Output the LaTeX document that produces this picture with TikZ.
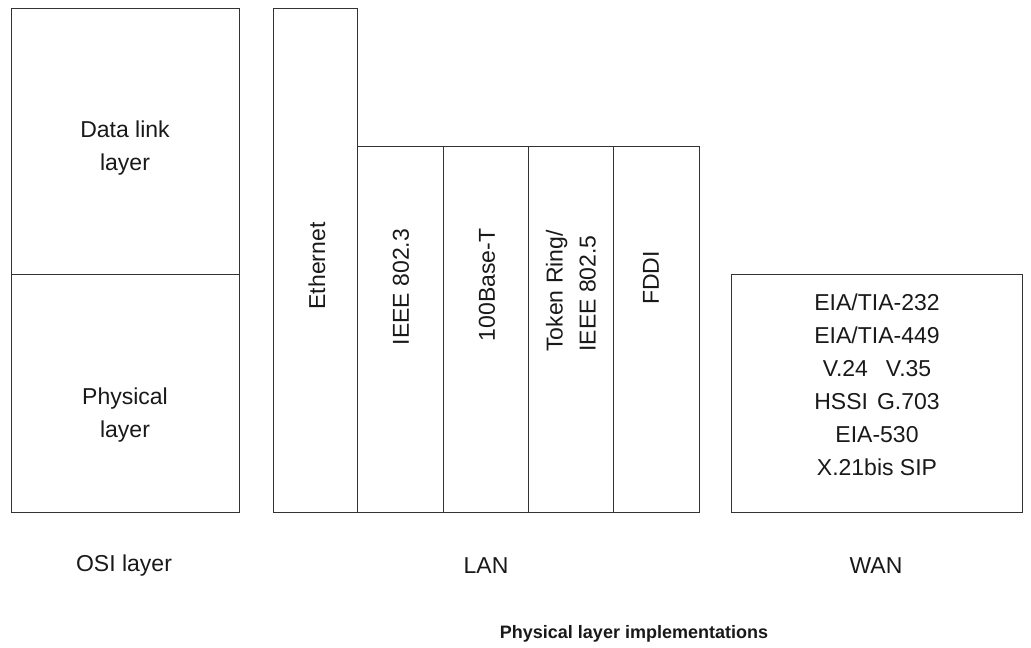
\documentclass[tikz,border=0pt]{standalone}
\usepackage{fontspec}
\setmainfont{Liberation Sans}
\usepackage{tikz}
\usetikzlibrary{positioning}
\tikzstyle{frame} = [
    draw=black!80,
    line width=1pt
]
\tikzstyle{txt} = [
    inner sep=0pt,
    align=center,
    text=black!90,
    font=\fontsize{23}{33}\selectfont
]
\tikzstyle{vtxt} = [
    txt,
    rotate=90,
    align=left
]

\begin{document}
\begin{tikzpicture}[x=1pt, y=-1pt]
    \useasboundingbox (0,0) rectangle (1031,648);
    \draw[frame] (11,8) rectangle (239,512);
    \draw[frame] (11,274) -- (239,274);
    \draw[frame] (273,8) rectangle (357,512);
    \draw[frame] (357,146) rectangle (699,512);
    \foreach \x in {443,528,613}
        \draw[frame] (\x,146) -- (\x,512);
    \draw[frame] (731,274) rectangle (1022,512);
    \node[txt] (dll) at (125,148.5) {Data link\\layer};
    \node[txt] (phy) at (125,415)   {Physical\\layer};
    \node[vtxt] (eth)  at (317,266) {Ethernet};
    \node[vtxt] (ieee) at (401,287) {IEEE 802.3};
    \node[vtxt] (fast) at (487,285) {100Base-T};
    \node[vtxt] (ring) at (571,291) {Token Ring/\\IEEE 802.5};
    \node[vtxt] (fddi) at (651,278) {FDDI};
    \node[txt] (wan) at (877,385) {EIA/TIA-232\\EIA/TIA-449\\V.24\hspace{18pt}V.35\\HSSI\hspace{9pt}G.703\\EIA-530\\X.21bis SIP};
    \node[txt] (osi)  at (124,566) {OSI layer};
    \node[txt] (lan)  at (486,566) {LAN};
    \node[txt] (wanl) at (876,566) {WAN};
    \node[txt, font=\fontsize{18}{22}\selectfont\bfseries] (impl) at (634,634) {Physical layer implementations};
\end{tikzpicture}
\end{document}
